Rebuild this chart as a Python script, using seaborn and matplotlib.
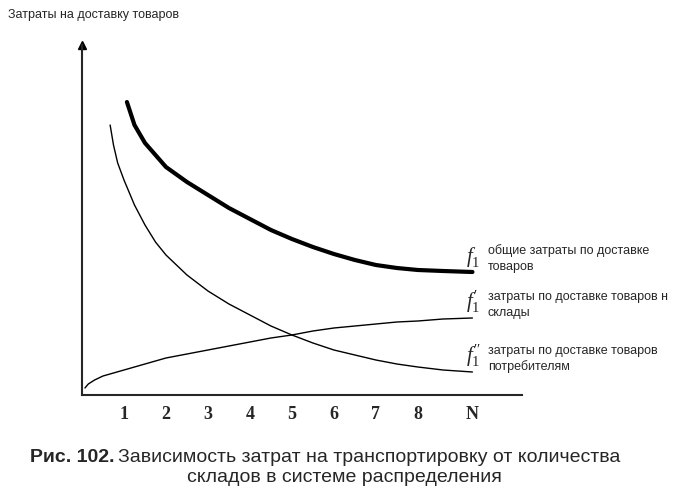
import numpy as np
import pandas as pd
import matplotlib
matplotlib.use("Agg")
import matplotlib.pyplot as plt
import seaborn as sb

# Данные (x — число складов, y — условные затраты)
x_total = [1.07, 1.25, 1.5, 2, 2.5, 3, 3.5, 4, 4.5, 5, 5.5, 6, 6.5, 7, 7.5, 8, 8.6, 9.3]
y_total = [293, 270, 252, 228, 213, 200, 187, 176, 165, 156, 148, 141, 135, 130, 127, 125, 124, 123]
x_cons = [0.67, 0.75, 0.85, 1, 1.25, 1.5, 1.75, 2, 2.5, 3, 3.5, 4, 4.5, 5, 5.5, 6, 6.5, 7, 7.5, 8, 8.6, 9.3]
y_cons = [270, 250, 232, 215, 190, 170, 153, 140, 120, 104, 91, 80, 69, 60, 52, 45, 40, 35, 31, 28, 25, 23]
x_wh = [0.07, 0.15, 0.3, 0.5, 0.75, 1, 1.5, 2, 2.5, 3, 3.5, 4, 4.5, 5, 5.5, 6, 6.5, 7, 7.5, 8, 8.6, 9.3]
y_wh = [7, 11, 15, 19, 22, 25, 31, 37, 41, 45, 49, 53, 57, 60, 64, 67, 69, 71, 73, 74, 76, 77]
tick_pos = [1, 2, 3, 4, 5, 6, 7, 8, 9.3]
tick_lab = ["1", "2", "3", "4", "5", "6", "7", "8", "N"]

sb.set_style("white")
plt.rcParams['font.family'] = ['Liberation Serif', 'DejaVu Serif']
plt.rcParams['mathtext.fontset'] = 'custom'
plt.rcParams['mathtext.it'] = 'Liberation Serif:italic'
plt.rcParams['mathtext.rm'] = 'Liberation Serif'

fig = plt.figure(figsize=(6.88, 4.97), dpi=100)
ax = fig.add_axes([82/688, 102/497, 440/688, 350/497])

df_t = pd.DataFrame({"x": x_total, "y": y_total})
df_c = pd.DataFrame({"x": x_cons, "y": y_cons})
df_w = pd.DataFrame({"x": x_wh, "y": y_wh})
sb.lineplot(data=df_t, x="x", y="y", ax=ax, color="black", linewidth=3)
sb.lineplot(data=df_c, x="x", y="y", ax=ax, color="black", linewidth=1)
sb.lineplot(data=df_w, x="x", y="y", ax=ax, color="black", linewidth=1)

ax.set_xlim(0, 10.48)
ax.set_ylim(0, 350)
ax.set_xticks(tick_pos)
ax.set_xticklabels(tick_lab, fontsize=13, fontweight="bold")
ax.set_yticks([])
ax.tick_params(axis="x", length=0, pad=8)
ax.set_xlabel("")
ax.set_ylabel("")
for s in ["top", "right"]:
    ax.spines[s].set_visible(False)
ax.spines["left"].set_linewidth(1.5)
ax.spines["bottom"].set_linewidth(1.5)
ax.plot(0, 1, "^k", transform=ax.transAxes, clip_on=False, markersize=6)

sans = ['Liberation Sans', 'DejaVu Sans']
fig.text(8/688, 1 - 18/497, "Затраты на доставку товаров", fontsize=9, family=sans)

def lab(px, py, sup, t1, t2):
    fig.text(px/688, 1 - py/497, "$f_1^{%s}$" % sup, fontsize=15)
    fig.text((px + 22)/688, 1 - (py - 8)/497, t1, fontsize=9, family=sans)
    fig.text((px + 22)/688, 1 - (py + 8)/497, t2, fontsize=9, family=sans)

lab(466, 262, "", "общие затраты по доставке", "товаров")
lab(466, 308, "\\prime", "затраты по доставке товаров н", "склады")
lab(466, 362, "\\prime\\prime", "затраты по доставке товаров", "потребителям")

fig.text(30/688, 1 - 462/497, "Рис. 102.", fontsize=14, fontweight="bold", family=sans)
fig.text(118/688, 1 - 462/497, "Зависимость затрат на транспортировку от количества",
         fontsize=14, family=sans)
fig.text(0.5, 1 - 482/497, "складов в системе распределения", ha="center", fontsize=14, family=sans)

fig.savefig("out.png", dpi=100)
